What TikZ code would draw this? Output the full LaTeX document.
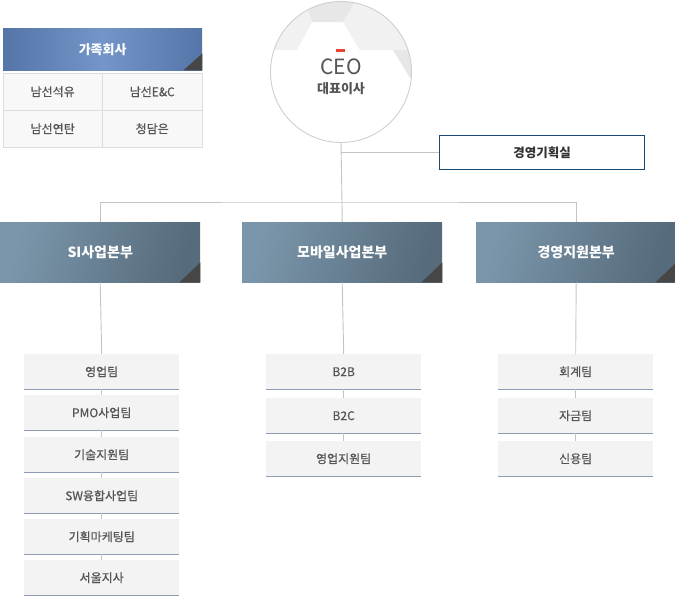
\documentclass[tikz,border=0pt]{standalone}
\usepackage{fontspec}
\setmainfont{Noto Sans CJK KR}
\definecolor{hdA}{HTML}{7B96AB}
\definecolor{hdB}{HTML}{566B7B}
\definecolor{famA}{HTML}{5575A8}
\definecolor{famB}{HTML}{7395C8}
\definecolor{tri}{HTML}{464646}
\definecolor{teamfill}{HTML}{F3F3F3}
\definecolor{teamline}{HTML}{8C9CB5}
\definecolor{conn}{HTML}{C4C4C4}
\definecolor{txt}{HTML}{555555}
\definecolor{navy}{HTML}{1A4A78}
\definecolor{cellfill}{HTML}{F8F8F8}
\definecolor{cellline}{HTML}{DDDDDD}
\definecolor{ceoline}{HTML}{CFCFCF}
\definecolor{pat1}{HTML}{F1F1F1}
\definecolor{pat2}{HTML}{E7E7E7}
\definecolor{ceored}{HTML}{E8452C}
\tikzset{
  hdbox/.style={rectangle, minimum width=200pt, minimum height=60pt, inner sep=0pt, anchor=north west,
    left color=hdA, right color=hdB, shading angle=75, text=white, font=\fontsize{14}{16}\selectfont\bfseries},
  fambox/.style={rectangle, minimum width=199pt, minimum height=42pt, inner sep=0pt, anchor=north west,
    left color=famA, right color=famA, middle color=famB, text=white, font=\fontsize{13}{15}\selectfont\bfseries},
  cellbox/.style={rectangle, minimum height=37pt, inner sep=0pt, anchor=north west,
    fill=cellfill, draw=cellline, text=txt, font=\fontsize{12}{14}\selectfont\addfontfeature{FakeBold=0.6}},
  teambox/.style={rectangle, minimum width=155pt, minimum height=35pt, inner sep=0pt, anchor=north west,
    fill=teamfill, text=txt, font=\fontsize{12}{14}\selectfont\addfontfeature{FakeBold=0.6}},
  teamrule/.style={draw=teamline, line width=1.1pt},
  connline/.style={draw=conn, line width=0.9pt},
  tricorner/.style={fill=tri},
  planbox/.style={rectangle, minimum width=205pt, minimum height=34pt, inner sep=0pt, anchor=north west,
    draw=navy, line width=1pt, fill=white, text=black!80, font=\fontsize{12.5}{14}\selectfont\bfseries},
}
\begin{document}
\begin{tikzpicture}[x=1pt,y=-1pt]
\useasboundingbox (0,0) rectangle (675,597);

% ---- family companies ----
\node[fambox] (fam) at (3,28) {가족회사};
\fill[tricorner] (fam.south east) -- ++(-19,0) -- ++(19,-17) -- cycle;
\node[cellbox, minimum width=99pt] (c1) at (3,73) {남선석유};
\node[cellbox, minimum width=100pt] (c2) at (102,73) {남선E\&C};
\node[cellbox, minimum width=99pt] (c3) at (3,110) {남선연탄};
\node[cellbox, minimum width=100pt] (c4) at (102,110) {청담은};

% ---- CEO ----
\node[circle, fill=white, minimum size=141pt, inner sep=0pt] (ceo) at (341,72) {};
\begin{scope}
  \clip (341,72) circle (70.5pt);
  \fill[pat1] (260,0) -- (420,0) -- (420,50) -- (360,50) -- (343,22) -- (312,22) -- (297,50) -- (260,50) -- cycle;
  \fill[pat2] (305,0) -- (307,7) -- (312,22) -- (343,22) -- (353,5) -- (355,0) -- cycle;
  \fill[pat2] (393,50) -- (410,78) -- (420,78) -- (420,50) -- cycle;
\end{scope}
\draw[ceoline, line width=0.9pt] (341,72) circle (70.5pt);
\fill[ceored] (336,49) rectangle (345,52);
\node[text=txt, font=\fontsize{21}{23}\selectfont, inner sep=0pt] (ceot) at (341,67) {CEO};
\node[text=txt, font=\fontsize{13}{15}\selectfont\bfseries, inner sep=0pt] (ceok) at (341,89) {대표이사};

% ---- planning office ----
\node[planbox] (plan) at (439,135) {경영기획실};

% ---- division headers ----
\node[hdbox] (si) at (0,222) {SI사업본부};
\node[hdbox] (mob) at (242,222) {모바일사업본부};
\node[hdbox] (mg) at (476,222) {경영지원본부};
\foreach \n in {si,mob,mg}{
  \fill[tricorner] (\n.south east) -- ++(-21,0) -- ++(21,-20) -- cycle;
}

% ---- teams ----
\node[teambox] (s1) at (24,354) {영업팀};
\node[teambox] (s2) at (24,395) {PMO사업팀};
\node[teambox] (s3) at (24,437) {기술지원팀};
\node[teambox] (s4) at (24,478) {SW융합사업팀};
\node[teambox] (s5) at (24,519) {기획마케팅팀};
\node[teambox] (s6) at (24,560) {서울지사};

\node[teambox] (m1) at (266,354) {B2B};
\node[teambox] (m2) at (266,398) {B2C};
\node[teambox] (m3) at (266,441) {영업지원팀};

\node[teambox] (g1) at (498,354) {회계팀};
\node[teambox] (g2) at (498,398) {자금팀};
\node[teambox] (g3) at (498,441) {신용팀};

\foreach \t in {s1,s2,s3,s4,s5,s6,m1,m2,m3,g1,g2,g3}{
  \draw[teamrule] (\t.south west) -- (\t.south east);
}

% ---- connectors ----
\coordinate (jn) at (342,202);
\draw[connline] (ceo.south) -- (jn);
\draw[connline] (ceo.south |- plan.west) -- (plan.west);
\draw[connline] (si.north) |- (jn) -| (mg.north);
\draw[connline] (jn) -- (mob.north);

\draw[connline] (si.south) -- (s1.north);
\draw[connline] (s1.south) -- (s2.north);
\draw[connline] (s2.south) -- (s3.north);
\draw[connline] (s3.south) -- (s4.north);
\draw[connline] (s4.south) -- (s5.north);
\draw[connline] (s5.south) -- (s6.north);

\draw[connline] (mob.south) -- (m1.north);
\draw[connline] (m1.south) -- (m2.north);
\draw[connline] (m2.south) -- (m3.north);

\draw[connline] (mg.south) -- (g1.north);
\draw[connline] (g1.south) -- (g2.north);
\draw[connline] (g2.south) -- (g3.north);
\end{tikzpicture}
\end{document}
